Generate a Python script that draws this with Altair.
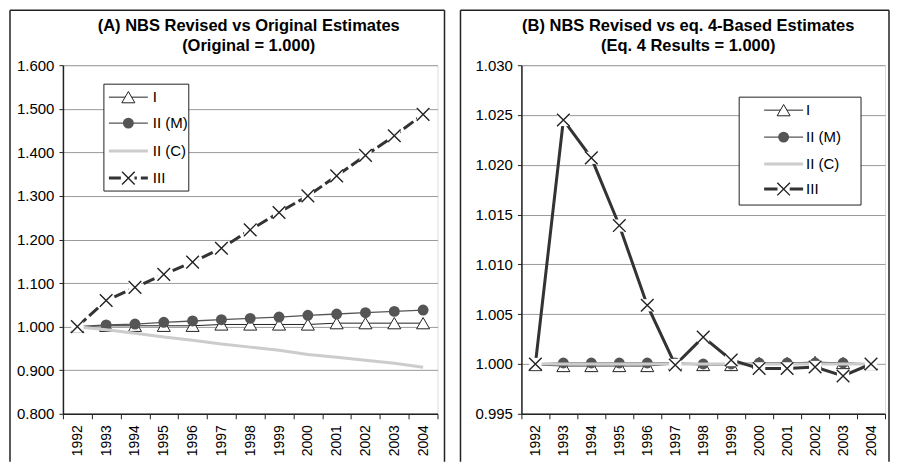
import altair as alt
import pandas as pd

FONT = "Liberation Sans"
DARK = "#222222"

years = [str(y) for y in range(1992, 2005)]

# Panel A: NBS revised vs original estimates (original = 1.000)
a_I = [1.000, 1.002, 1.002, 1.002, 1.002, 1.005, 1.005, 1.005, 1.005, 1.008, 1.008, 1.008, 1.008]
a_IIM = [1.000, 1.004, 1.006, 1.010, 1.013, 1.016, 1.019, 1.022, 1.026, 1.029, 1.032, 1.035, 1.038]
a_IIC = [1.000, 0.993, 0.985, 0.976, 0.969, 0.960, 0.953, 0.946, 0.936, 0.930, 0.923, 0.916, 0.907]
a_III = [1.000, 1.060, 1.090, 1.120, 1.148, 1.180, 1.222, 1.262, 1.300, 1.346, 1.393, 1.438, 1.487]
a_ticks = [0.8, 0.9, 1.0, 1.1, 1.2, 1.3, 1.4, 1.5, 1.6]
a_title = ["(A) NBS Revised vs Original Estimates", "(Original = 1.000)"]

# Panel B: NBS revised vs eq. 4-based estimates (eq. 4 = 1.000)
b_I = [0.9999, 0.9998, 0.9998, 0.9998, 0.9998, 1.0000, 0.9999, 0.9999, 1.0001, 1.0001, 1.0002, 1.0001, 1.0000]
b_IIM = [1.0000, 1.0001, 1.0001, 1.0001, 1.0001, 1.0001, 1.0000, 1.0000, 1.0001, 1.0001, 1.0001, 1.0001, 1.0000]
b_IIC = [1.0000, 1.0000, 1.0000, 1.0000, 1.0000, 1.0000, 1.0000, 1.0000, 1.0000, 1.0000, 1.0000, 1.0000, 1.0000]
b_III = [1.0000, 1.0245, 1.0207, 1.0139, 1.0059, 0.9999, 1.0027, 1.0004, 0.99955, 0.99955, 0.9997, 0.9988, 1.0000]
b_ticks = [0.995, 1.000, 1.005, 1.010, 1.015, 1.020, 1.025, 1.030]
b_title = ["(B) NBS Revised vs eq. 4-Based Estimates", "(Eq. 4 Results = 1.000)"]

legend_labels = ["I", "II (M)", "II (C)", "III"]

XSHAPE = "M-1,-1L1,1M-1,1L1,-1"
one = pd.DataFrame({"k": [0]})
TRI = dict(shape="triangle-up", filled=True, fill="white", stroke=DARK,
           strokeWidth=1, size=170, opacity=1)
CIR = dict(shape="circle", filled=True, fill="#555555", stroke="#555555",
           size=80, opacity=1)
SQ = dict(shape="square", filled=True, fill="white", strokeWidth=0, size=150, opacity=1)
XM = dict(shape=XSHAPE, filled=False, stroke=DARK, strokeWidth=1.4, size=160, opacity=1)


def panel(I, IIM, IIC, III, dom, ticks, title, title_x, w, h, dash, leg, border):
    def enc(df_vals):
        return pd.DataFrame({"year": years, "value": df_vals})

    xenc = alt.X("year:O",
                 scale=alt.Scale(type="band", paddingInner=0, paddingOuter=0),
                 axis=alt.Axis(title=None, tickBand="extent", labelAngle=-90,
                               labelFontSize=14, labelFont=FONT, labelColor="#000000",
                               tickSize=5, labelPadding=6, tickColor=DARK,
                               domainColor=DARK, domainWidth=1.5, grid=False))
    yenc = alt.Y("value:Q",
                 scale=alt.Scale(domain=dom, nice=False, zero=False),
                 axis=alt.Axis(title=None, values=ticks, format=".3f",
                               labelFontSize=15, labelFont=FONT, labelColor="#000000",
                               tickSize=4, labelPadding=5, tickColor=DARK,
                               domainColor=DARK, domainWidth=1.5,
                               grid=True, gridColor="#9a9a9a", gridWidth=1))

    def base(vals):
        return alt.Chart(enc(vals)).encode(x=xenc, y=yenc)

    layers = [
        base(I).mark_line(color=DARK, strokeWidth=1),
        base(I).mark_point(**TRI),
        base(IIM).mark_line(color="#555555", strokeWidth=1.3),
        base(IIM).mark_point(**CIR),
        base(IIC).mark_line(color="#cccccc", strokeWidth=3),
    ]
    iii_line = dict(color="#333333", strokeWidth=3)
    if dash:
        iii_line["strokeDash"] = dash
    layers += [
        base(III).mark_line(**iii_line),
        base(III).mark_point(**SQ),
        base(III).mark_point(**XM),
    ]

    # legend box
    lx0, lx1, ly0, ly1, rows, sx0, sx1, tx = leg
    layers.append(alt.Chart(one).mark_rect(fill="white", stroke=DARK, strokeWidth=1).encode(
        x=alt.value(lx0), x2=alt.value(lx1), y=alt.value(ly0), y2=alt.value(ly1)))
    sm = (sx0 + sx1) / 2
    styles = [
        dict(color=DARK, strokeWidth=1),
        dict(color="#555555", strokeWidth=1.3),
        dict(color="#cccccc", strokeWidth=3),
        iii_line,
    ]
    for i, lab in enumerate(legend_labels):
        yy = rows[i]
        layers.append(alt.Chart(one).mark_rule(**styles[i]).encode(
            x=alt.value(sx0), x2=alt.value(sx1), y=alt.value(yy)))
        pos = dict(x=alt.value(sm), y=alt.value(yy))
        if i == 0:
            layers.append(alt.Chart(one).mark_point(**TRI).encode(**pos))
        elif i == 1:
            layers.append(alt.Chart(one).mark_point(**CIR).encode(**pos))
        elif i == 3:
            layers.append(alt.Chart(one).mark_point(**SQ).encode(**pos))
            layers.append(alt.Chart(one).mark_point(**XM).encode(**pos))
        layers.append(alt.Chart(one).mark_text(text=lab, align="left", baseline="middle",
                                               font=FONT, fontSize=15, color="#000000").encode(
            x=alt.value(tx), y=alt.value(yy)))

    # panel title (two lines)
    for line, yy in zip(title, [-47, -27]):
        layers.append(alt.Chart(one).mark_text(text=line, align="center", baseline="top",
                                               font=FONT, fontSize=16.5, fontWeight="bold",
                                               color="#000000").encode(
            x=alt.value(title_x), y=alt.value(yy)))

    # outer panel frame (left, top, right)
    bx0, bx1, by0, by1 = border
    layers.append(alt.Chart(one).mark_rule(color=DARK, strokeWidth=1.5).encode(
        x=alt.value(bx0), y=alt.value(by0), y2=alt.value(by1)))
    layers.append(alt.Chart(one).mark_rule(color=DARK, strokeWidth=1.5).encode(
        x=alt.value(bx1), y=alt.value(by0), y2=alt.value(by1)))
    layers.append(alt.Chart(one).mark_rule(color=DARK, strokeWidth=1.5).encode(
        x=alt.value(bx0), x2=alt.value(bx1), y=alt.value(by0)))

    return alt.layer(*layers).properties(width=w, height=h)


pA = panel(a_I, a_IIM, a_IIC, a_III, [0.8, 1.6], a_ticks, a_title, 186,
           375, 349, [12, 4],
           (41, 126, 19, 126, [32, 58, 86, 113], 46, 85, 90),
           (-53, 382, -55, 397))
pB = panel(b_I, b_IIM, b_IIC, b_III, [0.995, 1.030], b_ticks, b_title, 167,
           364, 349, None,
           (218, 340, 32, 140, [45, 72, 99, 124], 243, 282, 285),
           (-61, 368, -55, 397))

chart = alt.hconcat(pA, pB, spacing=12).properties(padding=0).configure_view(
    stroke=DARK, strokeWidth=1.5).configure(background="white")

chart.save("out.html", embed_options={"renderer": "svg", "actions": False})
